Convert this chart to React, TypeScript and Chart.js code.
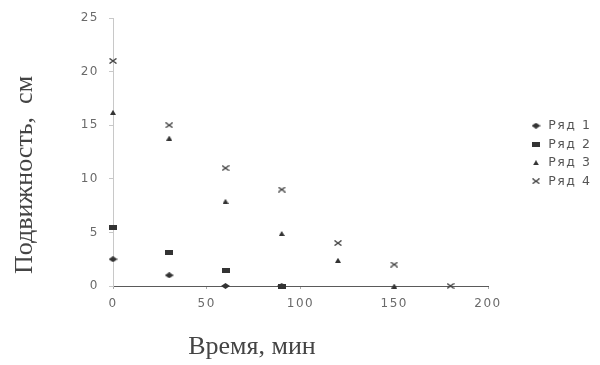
import React, { useEffect, useRef } from 'react';
import { Chart, registerables } from 'chart.js';

Chart.register(...registerables);

const timeMin = [0, 30, 60, 90, 120, 150, 180];
const series1 = [2.5, 1, 0, 0];
const series2 = [5.5, 3.1, 1.4, 0];
const series3 = [16.2, 13.8, 7.9, 4.9, 2.4, 0];
const series4 = [21, 15, 11, 9, 4, 2, 0];
const seriesNames = ['Ряд 1', 'Ряд 2', 'Ряд 3', 'Ряд 4'];
const xTicks = [0, 50, 100, 150, 200];
const yTicks = [0, 5, 10, 15, 20, 25];
const xTitle = 'Время, мин';
const yTitle = 'Подвижность,  см';

const toPoints = (vals: number[]) => vals.map((v, i) => ({ x: timeMin[i], y: v }));

function marker(kind: string, w: number, h: number, color: string): HTMLCanvasElement {
  const c = document.createElement('canvas');
  c.width = w;
  c.height = h;
  const g = c.getContext('2d') as CanvasRenderingContext2D;
  g.fillStyle = color;
  g.strokeStyle = color;
  if (kind === 'diamond') {
    g.beginPath();
    g.moveTo(w / 2, 0);
    g.lineTo(w, h / 2);
    g.lineTo(w / 2, h);
    g.lineTo(0, h / 2);
    g.closePath();
    g.fill();
  } else if (kind === 'rect') {
    g.fillRect(0, 0, w, h);
  } else if (kind === 'triangle') {
    g.beginPath();
    g.moveTo(w / 2, 0);
    g.lineTo(w, h);
    g.lineTo(0, h);
    g.closePath();
    g.fill();
  } else {
    g.lineWidth = 1.4;
    g.beginPath();
    g.moveTo(0.5, 0.5);
    g.lineTo(w - 0.5, h - 0.5);
    g.moveTo(w - 0.5, 0.5);
    g.lineTo(0.5, h - 0.5);
    g.stroke();
  }
  return c;
}

const SPACING = '1.5px';

const textSpacing = {
  id: 'textSpacing',
  beforeUpdate(chart: any) {
    chart.ctx.letterSpacing = SPACING;
  },
  beforeDraw(chart: any) {
    chart.ctx.letterSpacing = SPACING;
  },
};

const axisTitles = {
  id: 'axisTitles',
  afterDraw(chart: any) {
    const { ctx, chartArea } = chart;
    ctx.save();
    ctx.letterSpacing = '0px';
    ctx.font = '26px "Liberation Serif"';
    ctx.fillStyle = '#444';
    ctx.textAlign = 'center';
    ctx.textBaseline = 'middle';
    ctx.fillText(xTitle, chartArea.left + 139, chartArea.bottom + 61);
    ctx.translate(25, chartArea.top + 157);
    ctx.rotate(-Math.PI / 2);
    ctx.fillText(yTitle, 0, 0);
    ctx.restore();
  },
};

const legendPlace = {
  id: 'legendPlace',
  beforeLayout(chart: any) {
    const l = chart.legend;
    if (l && !l._fixedFit) {
      const orig = l.fit.bind(l);
      l.fit = () => {
        orig();
        l.width = 112;
      };
      l._fixedFit = true;
    }
  },
  afterLayout(chart: any) {
    const l = chart.legend;
    if (l) {
      const w = l.width;
      l.left = 524;
      l.right = 524 + w;
      l.top -= 38;
      l.bottom -= 38;
    }
  },
};

export default function App() {
  const ref = useRef<HTMLCanvasElement | null>(null);
  useEffect(() => {
    document.body.style.margin = '0';
    const canvas = ref.current as HTMLCanvasElement;
    const ink = '#333333';
    const chart = new Chart(canvas, {
      type: 'scatter',
      data: {
        datasets: [
          { label: seriesNames[0], data: toPoints(series1), pointStyle: marker('diamond', 9, 6, ink), backgroundColor: ink, borderColor: ink, clip: false },
          { label: seriesNames[1], data: toPoints(series2), pointStyle: marker('rect', 8, 5, ink), backgroundColor: ink, borderColor: ink, clip: false },
          { label: seriesNames[2], data: toPoints(series3), pointStyle: marker('triangle', 6, 5, ink), backgroundColor: ink, borderColor: ink, clip: false },
          { label: seriesNames[3], data: toPoints(series4), pointStyle: marker('cross', 8, 6, '#444'), backgroundColor: '#444', borderColor: '#444', clip: false },
        ],
      },
      plugins: [textSpacing, axisTitles, legendPlace],
      options: {
        animation: false,
        responsive: false,
        layout: { padding: { left: 0, right: 0, top: 18, bottom: 0 } },
        plugins: {
          tooltip: { enabled: false },
          legend: {
            position: 'right',
            align: 'center',
            labels: {
              usePointStyle: true,
              pointStyleWidth: 12,
              boxWidth: 12,
              boxHeight: 6,
              padding: 6,
              color: '#555',
              font: { family: '"DejaVu Sans"', size: 12.5 },
            },
          },
        },
        scales: {
          x: {
            type: 'linear',
            min: 0,
            max: 200,
            afterBuildTicks: (s: any) => { s.ticks = xTicks.map((v) => ({ value: v })); },
            afterFit: (s: any) => { s.height = 79; },
            border: { display: true, color: '#5a5a5a', width: 1 },
            grid: { display: true, drawOnChartArea: false, tickLength: 3, color: '#aaa' },
            ticks: { color: '#6a6a6a', padding: 8, font: { family: '"DejaVu Sans"', size: 12 }, maxRotation: 0 },
          },
          y: {
            type: 'linear',
            min: 0,
            max: 25,
            afterBuildTicks: (s: any) => { s.ticks = yTicks.map((v) => ({ value: v })); },
            afterFit: (s: any) => { s.width = 113; },
            border: { display: true, color: '#c8c8c8', width: 1 },
            grid: { display: true, drawOnChartArea: false, tickLength: 4, color: '#c8c8c8' },
            ticks: { color: '#6a6a6a', padding: 10, font: { family: '"DejaVu Sans"', size: 12 } },
          },
        },
      },
    });
    return () => chart.destroy();
  }, []);
  return (
    <div style={{ width: 600, height: 365, background: '#fff' }}>
      <canvas ref={ref} width={600} height={365} />
    </div>
  );
}
